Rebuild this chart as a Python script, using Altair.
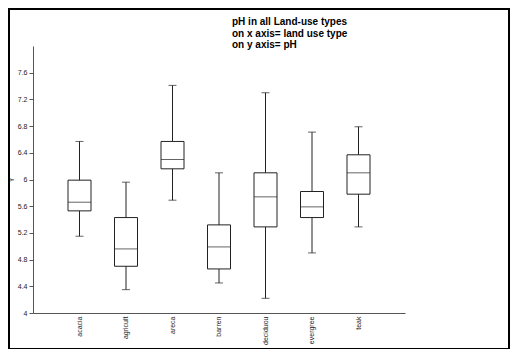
import altair as alt
import pandas as pd

categories = ["acacia", "agricult", "areca", "barren", "deciduou", "evergree", "teak"]
whisker_low = [5.15, 4.35, 5.69, 4.45, 4.22, 4.90, 5.29]
q1 = [5.53, 4.70, 6.16, 4.66, 5.29, 5.43, 5.78]
median = [5.66, 4.96, 6.30, 4.99, 5.74, 5.59, 6.10]
q3 = [5.99, 5.43, 6.57, 5.32, 6.10, 5.82, 6.37]
whisker_high = [6.57, 5.96, 7.41, 6.10, 7.30, 6.71, 6.79]
y_ticks = [4.0, 4.4, 4.8, 5.2, 5.6, 6.0, 6.4, 6.8, 7.2, 7.6]
title_lines = ["pH in all Land-use types", "on x axis= land use type", "on y axis= pH"]

df = pd.DataFrame({
    "cat": categories, "low": whisker_low, "q1": q1, "med": median,
    "q3": q3, "high": whisker_high,
})

W, H = 372, 267
FONT = "Liberation Sans"

x_enc = alt.X(
    "cat:N", sort=categories, title=None,
    scale=alt.Scale(paddingInner=0, paddingOuter=0.5),
    axis=alt.Axis(labelAngle=-90, labelFontSize=7, labelColor="#222", labelFont=FONT,
                  domainColor="#555", ticks=False, labelPadding=3, labelOverlap=False),
)
y_scale = alt.Scale(domain=[4, 8], nice=False, zero=False)
y_axis = alt.Axis(values=y_ticks, format="~g", labelFontSize=7, labelColor="#222",
                  labelFont=FONT, domainColor="#555", tickColor="#555", tickSize=4,
                  grid=False, title="Y", titleFontSize=7, titleFontWeight="normal",
                  titleFont=FONT, titleColor="#222", titleX=-19, titleY=H / 2,
                  titleAngle=-90, labelPadding=2, labelOverlap=False, labelBound=False)

base = alt.Chart(df)

whisk = base.mark_rule(color="#222", strokeWidth=1).encode(
    x=x_enc, y=alt.Y("low:Q", scale=y_scale, axis=y_axis), y2="high:Q")
box = base.mark_bar(size=23, fill="white", stroke="#222", strokeWidth=1).encode(
    x=alt.X("cat:N", sort=categories), y=alt.Y("q1:Q", axis=y_axis), y2="q3:Q")
med_t = base.mark_tick(size=23, thickness=1, color="#222").encode(
    x=alt.X("cat:N", sort=categories), y=alt.Y("med:Q", axis=y_axis))
cap_hi = base.mark_tick(size=8, thickness=1, color="#222").encode(
    x=alt.X("cat:N", sort=categories), y=alt.Y("high:Q", axis=y_axis))
cap_lo = base.mark_tick(size=8, thickness=1, color="#222").encode(
    x=alt.X("cat:N", sort=categories), y=alt.Y("low:Q", axis=y_axis))

frame = alt.Chart(pd.DataFrame({"f": [0]})).mark_rect(
    fill=None, stroke="black", strokeWidth=2).encode(
    x=alt.value(-24), x2=alt.value(476), y=alt.value(-37), y2=alt.value(303))

title_txt = alt.Chart(pd.DataFrame({"t": ["\n".join(title_lines)]})).mark_text(
    align="left", baseline="top", lineBreak="\n", fontSize=10, fontWeight="bold",
    font=FONT, lineHeight=11.5, color="black").encode(
    text="t:N", x=alt.value(199), y=alt.value(-29))

chart = alt.layer(whisk, box, med_t, cap_hi, cap_lo, frame, title_txt).properties(
    width=W, height=H,
    background="white",
    autosize=alt.AutoSizeParams(type="none"),
    padding={"left": 25, "top": 38, "right": 105, "bottom": 36},
).configure_axis(labelOverlap=False).configure_view(strokeWidth=0, stroke=None)

chart.save("out.html", embed_options={"renderer": "svg", "actions": False})
